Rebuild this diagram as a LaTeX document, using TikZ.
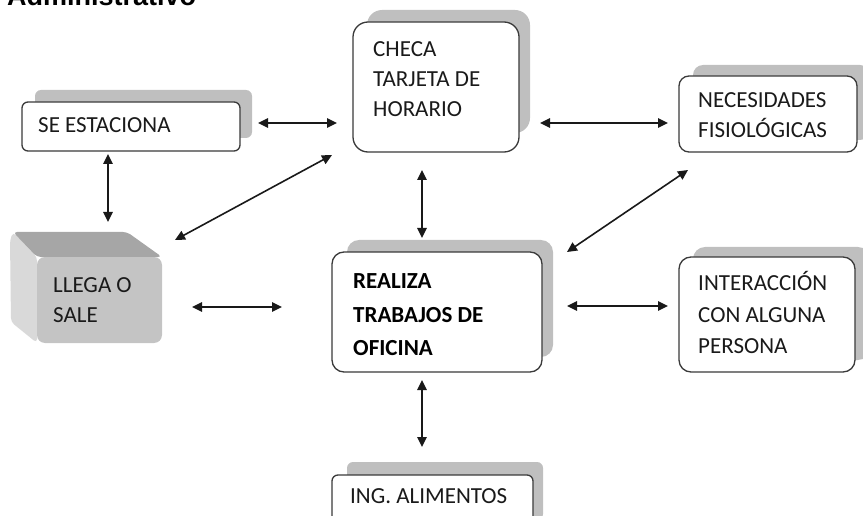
\documentclass[tikz,border=0pt]{standalone}
\usepackage{fontspec}
\setmainfont{Carlito}
\newfontfamily\titlefont{Liberation Sans}
\usetikzlibrary{arrows.meta,calc}
\definecolor{shadowgray}{HTML}{BFBFBF}
\definecolor{edgegray}{HTML}{3A3A3A}
\definecolor{txt}{HTML}{1A1A1A}
\definecolor{frontgray}{HTML}{C4C4C4}
\definecolor{topgray}{HTML}{A6A6A6}
\definecolor{sidegray}{HTML}{D9D9D9}
\tikzset{
  boxnode/.style={draw=edgegray, line width=1.3pt, fill=white, inner sep=0pt, outer sep=0pt, anchor=north west},
  lbl/.style={anchor=base west, inner sep=0pt, text=txt, font=\fontsize{23}{30}\selectfont},
  blbl/.style={lbl, font=\fontsize{23}{30}\selectfont\bfseries, text=black},
  arr/.style={{Triangle[length=10pt,width=9.5pt]}-{Triangle[length=10pt,width=9.5pt]}, line width=1.6pt, draw=black!90}
}
\begin{document}
\begin{tikzpicture}[x=1pt,y=-1pt]
\useasboundingbox (0,0) rectangle (863,516);
% title (cut off at the top edge, as in the reference)
\node[anchor=base west, inner sep=0pt, font=\titlefont\bfseries\fontsize{27}{30}\selectfont] (title) at (7,6) {Administrativo};
% shadows
\fill[shadowgray, rounded corners=6pt] (35,90) rectangle (252,138);
\fill[shadowgray, rounded corners=15pt] (367,10) rectangle (530,133);
\fill[shadowgray, rounded corners=10pt] (693,65) rectangle (870,140);
\fill[shadowgray, rounded corners=12pt] (693,247) rectangle (870,360);
\fill[shadowgray, rounded corners=12pt] (347,240) rectangle (553,357);
\fill[shadowgray, rounded corners=6pt] (347,462) rectangle (543,520);
% boxes
\node[boxnode, rounded corners=6pt, minimum width=218pt, minimum height=49pt] (se) at (22,102) {};
\node[boxnode, rounded corners=15pt, minimum width=166pt, minimum height=130pt] (checa) at (353,22) {};
\node[boxnode, rounded corners=10pt, minimum width=178pt, minimum height=76pt] (nec) at (679,76) {};
\node[boxnode, rounded corners=12pt, minimum width=176pt, minimum height=115pt] (inter) at (679,257) {};
\node[boxnode, rounded corners=12pt, minimum width=210pt, minimum height=120pt] (real) at (332,252) {};
\node[boxnode, rounded corners=6pt, minimum width=201pt, minimum height=60pt] (ing) at (332,475) {};
% 3D box
\fill[sidegray, rounded corners=4pt] (13,232) -- (37,257) -- (37,343) -- (11,322) -- (10,240) -- cycle;
\fill[topgray, rounded corners=4pt] (13,232) -- (127,232) -- (162,257) -- (37,257) -- cycle;
\node[fill=frontgray, rounded corners=8pt, inner sep=0pt, outer sep=0pt, anchor=north west, minimum width=125pt, minimum height=86pt] (llega) at (37,257) {};
% texts
\node[lbl] (tse) at (38,133) {SE ESTACIONA};
\node[lbl] (tch1) at (373,57) {CHECA};
\node[lbl] (tch2) at (373,87) {TARJETA DE};
\node[lbl] (tch3) at (373,117) {HORARIO};
\node[lbl] (tne1) at (698,108) {NECESIDADES};
\node[lbl] (tne2) at (698,138) {FISIOLÓGICAS};
\node[lbl] (tin1) at (698,290) {INTERACCIÓN};
\node[lbl] (tin2) at (698,322) {CON ALGUNA};
\node[lbl] (tin3) at (698,353) {PERSONA};
\node[blbl] (tre1) at (353,288) {REALIZA};
\node[blbl] (tre2) at (353,322) {TRABAJOS DE};
\node[blbl] (tre3) at (353,355) {OFICINA};
\node[lbl] (ting) at (350,503) {ING. ALIMENTOS};
\node[lbl] (tll1) at (53,292) {LLEGA O};
\node[lbl] (tll2) at (53,322) {SALE};
% connectors
\draw[arr] ($(se.east)+(18,-3.5)$) -- ($(checa.west)+(-16,36)$);
\draw[arr] ($(checa.east)+(21,36)$) -- ($(nec.west)+(-11,9)$);
\draw[arr] ($(se.south west)+(86,3)$) -- ($(llega.north)+(8.5,-35)$);
\draw[arr] ($(checa.south west)+(-21,3)$) -- ($(llega.north east)+(13,-17)$);
\draw[arr] ($(checa.south)+(-14,18)$) -- ($(real.north)+(-15,-14)$);
\draw[arr] ($(nec.south west)+(9,18)$) -- ($(real.north east)+(25,0)$);
\draw[arr] ($(llega.east)+(30,7)$) -- ($(real.west)+(-50,-5)$);
\draw[arr] ($(real.east)+(25,-6)$) -- ($(inter.west)+(-11,-8.5)$);
\draw[arr] ($(real.south)+(-15,8)$) -- ($(ing.north)+(-10.5,-28)$);
\end{tikzpicture}
\end{document}
